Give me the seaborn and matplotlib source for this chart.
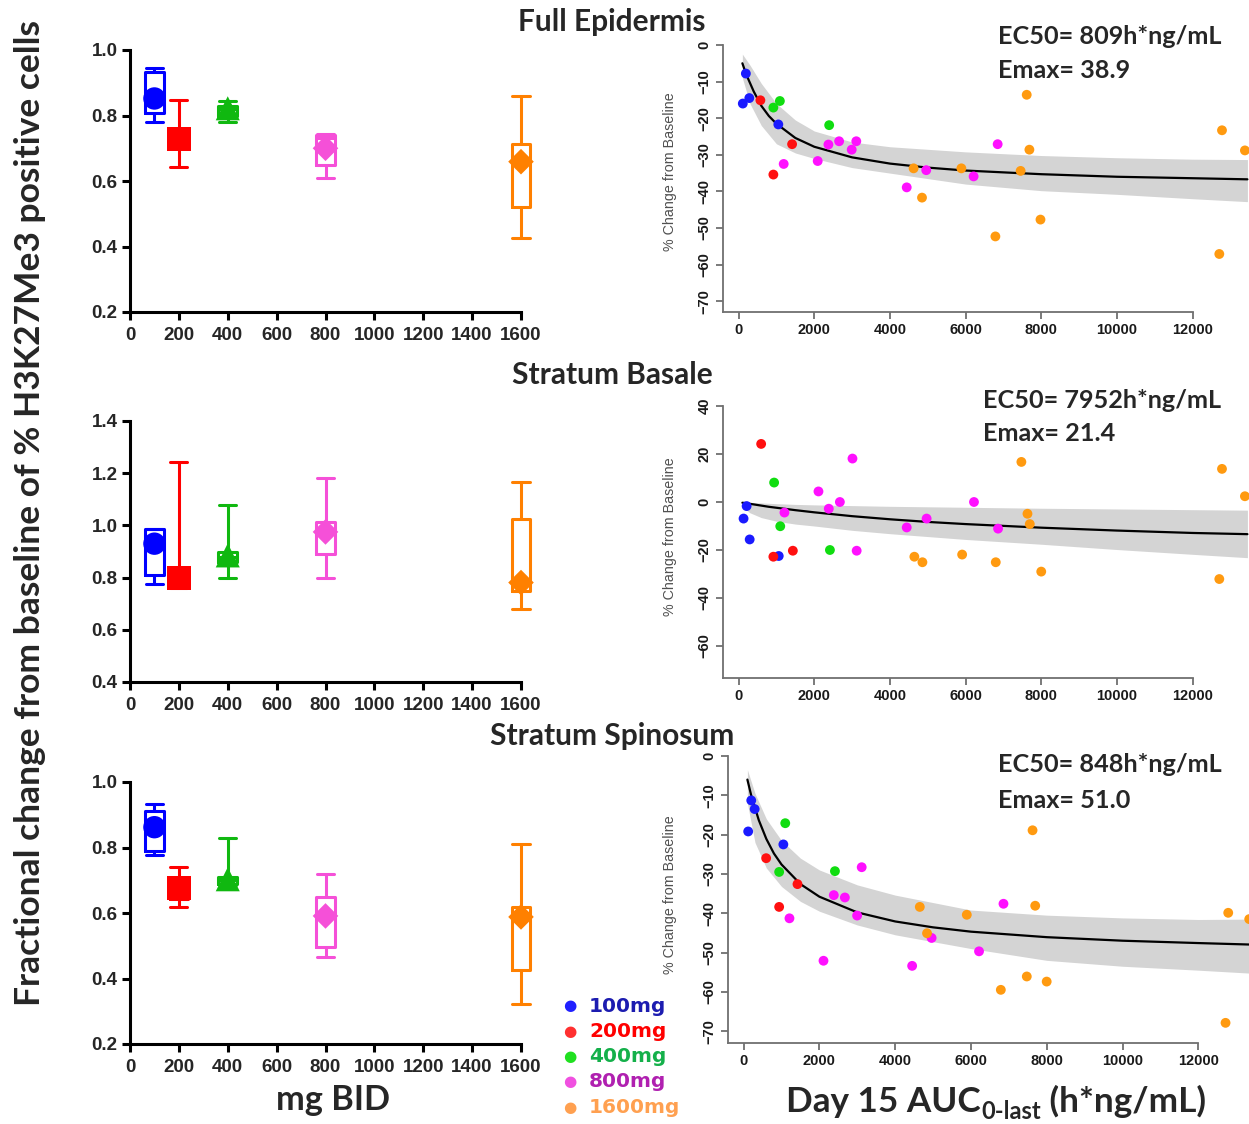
import numpy as np
import pandas as pd
import matplotlib
matplotlib.use("Agg")
import matplotlib.pyplot as plt
from matplotlib import font_manager
import seaborn as sns

# ------------------------------------------------------------------ data
groups = ["100mg", "200mg", "400mg", "800mg", "1600mg"]
doses = [100, 200, 400, 800, 1600]
panel_titles = ["Full Epidermis", "Stratum Basale", "Stratum Spinosum"]
ec50_text = ["EC50= 809h*ng/mL", "EC50= 7952h*ng/mL", "EC50= 848h*ng/mL"]
emax_text = ["Emax= 38.9", "Emax= 21.4", "Emax= 51.0"]

# box-whisker summaries (fraction of baseline), per dose group
fe_lo = [0.781, 0.644, 0.779, 0.610, 0.427]
fe_q1 = [0.808, 0.700, 0.800, 0.650, 0.522]
fe_med = [0.845, 0.730, 0.820, 0.730, 0.660]
fe_q3 = [0.934, 0.758, 0.830, 0.740, 0.712]
fe_hi = [0.946, 0.846, 0.845, 0.745, 0.860]
fe_mean = [0.852, 0.728, 0.822, 0.700, 0.659]

sb_lo = [0.774, 0.760, 0.800, 0.797, 0.681]
sb_q1 = [0.811, 0.770, 0.860, 0.892, 0.747]
sb_med = [0.930, 0.800, 0.880, 0.975, 0.781]
sb_q3 = [0.987, 0.834, 0.900, 1.013, 1.026]
sb_hi = [0.987, 1.243, 1.079, 1.183, 1.168]
sb_mean = [0.930, 0.800, 0.885, 0.975, 0.781]

ss_lo = [0.776, 0.617, 0.685, 0.466, 0.323]
ss_q1 = [0.790, 0.644, 0.690, 0.497, 0.427]
ss_med = [0.862, 0.675, 0.700, 0.591, 0.588]
ss_q3 = [0.911, 0.706, 0.710, 0.648, 0.619]
ss_hi = [0.933, 0.739, 0.829, 0.718, 0.812]
ss_mean = [0.862, 0.675, 0.703, 0.591, 0.588]

# individual subjects: group, AUC, % change
pt_group = (["100mg"] * 4 + ["200mg"] * 3 + ["400mg"] * 3 +
            ["800mg"] * 10 + ["1600mg"] * 11)

fe_auc = [192, 111, 283, 1050, 576, 1414, 919, 919, 1091, 2394,
          1192, 2091, 2374, 2657, 2990, 3111, 4444, 4960, 6212, 6848,
          4626, 4848, 5889, 6788, 7455, 7616, 7687, 7980, 12707, 12778, 13384]
fe_pct = [-7.8, -16.0, -14.5, -21.7, -15.1, -27.1, -35.4, -17.1, -15.3, -21.9,
          -32.5, -31.7, -27.2, -26.3, -28.6, -26.3, -38.9, -34.2, -35.9, -27.1,
          -33.7, -41.7, -33.7, -52.3, -34.4, -13.6, -28.6, -47.7, -57.1, -23.3, -28.8]

sb_auc = [131, 212, 293, 1061, 596, 919, 1434, 939, 1101, 2414,
          1212, 2111, 2384, 2677, 3010, 3121, 4444, 4970, 6222, 6859,
          4646, 4859, 5909, 6798, 7475, 7636, 7697, 8000, 12707, 12778, 13384]
sb_pct = [-6.9, -1.7, -15.6, -22.5, 24.2, -22.8, -20.3, 8.1, -10.1, -20.0,
          -4.4, 4.4, -2.8, 0.0, 18.1, -20.3, -10.6, -6.9, 0.0, -11.1,
          -22.8, -25.1, -21.9, -25.1, 16.7, -4.9, -9.2, -29.0, -32.1, 13.8, 2.4]

ss_auc = [202, 292, 121, 1049, 595, 1422, 938, 1099, 938, 2410,
          1210, 2108, 2380, 2672, 2995, 3116, 4447, 4961, 6212, 6857,
          4649, 4840, 5889, 6787, 7472, 7624, 7694, 7997, 12716, 12787, 13341]
ss_pct = [-11.3, -13.5, -19.2, -22.5, -26.0, -32.6, -38.4, -17.1, -29.5, -29.3,
          -41.3, -52.1, -35.4, -36.0, -40.6, -28.3, -53.4, -46.3, -49.7, -37.6,
          -38.4, -45.1, -40.4, -59.5, -56.1, -18.9, -38.1, -57.4, -67.9, -39.9, -41.5]

# fitted Emax curve and its band
curve_x = [100, 200, 400, 600, 800, 1000, 1500, 2000, 3000, 4000, 5000,
           6000, 8000, 10000, 12000, 13450]
fe_curve = [-5.0, -8.0, -12.7, -16.6, -19.4, -21.5, -25.4, -27.8, -30.7, -32.4,
            -33.5, -34.3, -35.3, -36.0, -36.4, -36.7]
sb_curve = [-0.3, -0.5, -1.0, -1.5, -2.0, -2.4, -3.4, -4.3, -5.9, -7.2, -8.3,
            -9.2, -10.7, -11.9, -12.9, -13.4]
ss_curve = [-6.0, -10.0, -16.3, -21.1, -24.8, -27.6, -32.6, -35.8, -39.8, -42.1,
            -43.6, -44.7, -46.1, -47.0, -47.6, -48.0]

band_x = [100, 300, 600, 1000, 1500, 2000, 3000, 4000, 6000, 8000, 10000, 12000, 13450]
fe_band_hi = [-2.5, -5.5, -10.5, -16.0, -20.5, -23.5, -26.5, -27.8, -29.2, -30.2, -30.8, -31.2, -31.3]
fe_band_lo = [-9.0, -16.0, -22.0, -27.0, -29.5, -31.0, -33.5, -35.0, -38.0, -39.8, -40.8, -42.0, -42.8]
sb_band_hi = [0.0, -0.2, -0.4, -0.7, -1.0, -1.2, -1.5, -1.8, -2.2, -2.6, -2.9, -3.2, -3.4]
sb_band_lo = [-2.0, -4.5, -6.5, -8.0, -9.2, -10.0, -11.8, -13.2, -15.6, -17.6, -19.8, -21.8, -23.2]
ss_band_hi = [-3.5, -9.5, -16.0, -21.5, -26.0, -29.0, -32.8, -35.4, -39.2, -40.5, -41.2, -41.6, -41.5]
ss_band_lo = [-12.0, -22.0, -28.5, -33.2, -37.0, -39.5, -43.0, -45.5, -49.0, -52.0, -53.5, -54.5, -55.3]

# ------------------------------------------------------------------ style
sns.set_style("white")
W, H = 1249, 1124
fig = plt.figure(figsize=(W / 100, H / 100), dpi=100)
plt.rcParams["font.family"] = ["Liberation Sans", "DejaVu Sans"]

box_colors = ["#0000ff", "#ff0000", "#10b810", "#f550d8", "#ff8000"]
pt_colors = {"100mg": "#1a1aff", "200mg": "#ff1010", "400mg": "#10dd10",
             "800mg": "#ff10ff", "1600mg": "#ff9a10"}
mean_markers = {"100mg": "o", "200mg": "s", "400mg": "^", "800mg": "D", "1600mg": "D"}
mean_sizes = {"100mg": 260, "200mg": 300, "400mg": 300, "800mg": 170, "1600mg": 170}

# narrow font for the R axis titles if available
try:
    font_manager.findfont("Liberation Sans Narrow", fallback_to_default=False)
    ylab_family, ylab_size = "Liberation Sans Narrow", 12.0
except Exception:
    ylab_family, ylab_size = "Liberation Sans", 10.3


def fx(px):
    return px / W


def fy(py):
    return 1 - py / H


# ------------------------------------------------------------------ left panels
left_specs = [
    dict(top=50, bot=312, ylim=(0.2, 1.0), lo=fe_lo, q1=fe_q1, med=fe_med, q3=fe_q3, hi=fe_hi, mean=fe_mean),
    dict(top=421, bot=682, ylim=(0.4, 1.4), lo=sb_lo, q1=sb_q1, med=sb_med, q3=sb_q3, hi=sb_hi, mean=sb_mean),
    dict(top=782, bot=1044, ylim=(0.2, 1.0), lo=ss_lo, q1=ss_q1, med=ss_med, q3=ss_q3, hi=ss_hi, mean=ss_mean),
]
for sp in left_specs:
    ax = fig.add_axes([fx(130), fy(sp["bot"]), fx(521 - 130), (sp["bot"] - sp["top"]) / H])
    stats = []
    for i in range(5):
        stats.append(dict(whislo=sp["lo"][i], q1=sp["q1"][i], med=sp["med"][i],
                          q3=sp["q3"][i], whishi=sp["hi"][i], fliers=[]))
    art = ax.bxp(stats, positions=doses, widths=76, capwidths=70, showfliers=False,
                 manage_ticks=False)
    for i, c in enumerate(box_colors):
        art["boxes"][i].set(color=c, linewidth=2.2, clip_on=False)
        art["medians"][i].set(color=c, linewidth=2.2, clip_on=False)
        for k in (2 * i, 2 * i + 1):
            art["whiskers"][k].set(color=c, linewidth=2.2, clip_on=False)
            art["caps"][k].set(color=c, linewidth=2.2, clip_on=False)
    mdf = pd.DataFrame({"dose": doses, "mean": sp["mean"], "group": groups})
    for g, c in zip(groups, box_colors):
        sub = mdf[mdf.group == g]
        sns.scatterplot(data=sub, x="dose", y="mean", marker=mean_markers[g],
                        s=mean_sizes[g], color=c, edgecolor="none", ax=ax,
                        legend=False, clip_on=False, zorder=5)
    ax.set_xlim(0, 1600)
    ax.set_ylim(*sp["ylim"])
    ax.set_xticks(range(0, 1601, 200))
    yt = np.arange(sp["ylim"][0], sp["ylim"][1] + 0.001, 0.2)
    ax.set_yticks(yt)
    ax.set_yticklabels([f"{v:.1f}" for v in yt])
    ax.set_xlabel("")
    ax.set_ylabel("")
    for s in ("top", "right"):
        ax.spines[s].set_visible(False)
    for s in ("left", "bottom"):
        ax.spines[s].set_linewidth(2.2)
        ax.spines[s].set_color("black")
    ax.tick_params(axis="both", direction="out", length=6, width=2.2, color="black",
                   labelsize=13.5, pad=3, left=True, bottom=True)
    ax.tick_params(axis="x", pad=5)
    for lab in ax.get_xticklabels() + ax.get_yticklabels():
        lab.set_fontweight("bold")
    ax.patch.set_alpha(0)

# ------------------------------------------------------------------ right panels
right_specs = [
    dict(left=722.6, zero=738.6, k=37.83, bot=312, y0px=45, ypx=3.66, ytop=2.8,
         ticks=list(range(0, -71, -10)), auc=fe_auc, pct=fe_pct, curve=fe_curve,
         bhi=fe_band_hi, blo=fe_band_lo),
    dict(left=722.6, zero=738.6, k=37.83, bot=678, y0px=502, ypx=2.40, ytop=44.4,
         ticks=list(range(40, -61, -20)), auc=sb_auc, pct=sb_pct, curve=sb_curve,
         bhi=sb_band_hi, blo=sb_band_lo),
    dict(left=727.6, zero=743.6, k=37.9, bot=1043, y0px=756, ypx=3.93, ytop=2.8,
         ticks=list(range(0, -71, -10)), auc=ss_auc, pct=ss_pct, curve=ss_curve,
         bhi=ss_band_hi, blo=ss_band_lo),
]
ylabel_centers = [172, 537, 895]
for j, sp in enumerate(right_specs):
    xl = (sp["left"] - sp["zero"]) / sp["k"] * 1000
    xr = (W - sp["zero"]) / sp["k"] * 1000
    ybot = -(sp["bot"] - sp["y0px"]) / sp["ypx"]
    ytop_px = sp["y0px"] - sp["ytop"] * sp["ypx"]
    ax = fig.add_axes([fx(sp["left"]), fy(sp["bot"]), fx(W - sp["left"]),
                       (sp["bot"] - ytop_px) / H])
    ax.fill_between(band_x, sp["blo"], sp["bhi"], color="#d4d4d4", linewidth=0, zorder=1)
    sns.lineplot(x=curve_x, y=sp["curve"], color="black", linewidth=1.6, ax=ax, zorder=2)
    pdf = pd.DataFrame({"auc": sp["auc"], "pct": sp["pct"], "group": pt_group})
    sns.scatterplot(data=pdf, x="auc", y="pct", hue="group", palette=pt_colors,
                    s=50, edgecolor="none", legend=False, ax=ax, zorder=3)
    ax.set_xlim(xl, xr)
    ax.set_ylim(ybot, sp["ytop"])
    ax.set_xticks(range(0, 12001, 2000))
    ax.set_yticks(sp["ticks"])
    ax.set_xlabel("")
    ax.set_ylabel("")
    for s in ("top", "right"):
        ax.spines[s].set_visible(False)
    ax.spines["left"].set_bounds(ybot, max(sp["ticks"]))
    ax.spines["bottom"].set_bounds(xl, 12000)
    for s in ("left", "bottom"):
        ax.spines[s].set_linewidth(1.3)
        ax.spines[s].set_color("#707070")
    ax.tick_params(axis="both", direction="out", length=5, width=1.3, color="#707070",
                   labelsize=10.5, pad=3, left=True, bottom=True, labelcolor="#1a1a1a")
    ax.tick_params(axis="y", labelrotation=90)
    for lab in ax.get_yticklabels():
        lab.set_va("center")
    for lab in ax.get_xticklabels() + ax.get_yticklabels():
        lab.set_fontweight("bold")
    ax.patch.set_alpha(0)
    fig.text(fx(670), fy(ylabel_centers[j]), "% Change from Baseline", rotation=90,
             ha="center", va="center", fontsize=ylab_size, color="#505050",
             family=ylab_family)

# ------------------------------------------------------------------ texts
title_y = [22, 375, 736]
for t, y in zip(panel_titles, title_y):
    fig.text(fx(612), fy(y), t, ha="center", va="center", fontsize=21.5,
             fontweight="bold", family="Lato")
ec_pos = [(998, 37, 71), (983, 400, 434), (998, 765, 800)]
for (x, y1, y2), a, b in zip(ec_pos, ec50_text, emax_text):
    fig.text(fx(x), fy(y1), a, ha="left", va="center", fontsize=18.2,
             fontweight="bold", family="Lato")
    fig.text(fx(x), fy(y2), b, ha="left", va="center", fontsize=18.2,
             fontweight="bold", family="Lato")

fig.text(fx(30), fy(513), "Fractional change from baseline of % H3K27Me3 positive cells",
         rotation=90, ha="center", va="center", fontsize=25.5, fontweight="bold",
         family="Lato")
fig.text(fx(333), fy(1100), "mg BID", ha="center", va="center", fontsize=24.7,
         fontweight="bold", family="Lato")

# legend
leg_text_colors = ["#1c1cb0", "#ff0000", "#14b04a", "#b020b0", "#ffa050"]
leg_dot_colors = ["#2020ff", "#ff3030", "#20e020", "#f050e0", "#ffa050"]
for i, g in enumerate(groups):
    y = 1006 + i * 25.3
    fig.text(fx(570), fy(y), "\u25cf", ha="center", va="center", fontsize=11,
             color=leg_dot_colors[i], family="DejaVu Sans")
    fig.text(fx(589), fy(y), g, ha="left", va="center", fontsize=14.5,
             fontweight="bold", color=leg_text_colors[i], family="DejaVu Sans")

# AUC x-label with subscript
fig.canvas.draw()
rend = fig.canvas.get_renderer()
base_y = fy(1112)
t1 = fig.text(fx(786), base_y, "Day 15 AUC", ha="left", va="baseline", fontsize=25.3,
              fontweight="bold", family="Lato")
bb1 = t1.get_window_extent(rend)
t2 = fig.text(bb1.x1 / W + 0.001, base_y - 7 / H, "0-last", ha="left", va="baseline",
              fontsize=17, fontweight="bold", family="Lato")
bb2 = t2.get_window_extent(rend)
fig.text(bb2.x1 / W, base_y, " (h*ng/mL)", ha="left", va="baseline", fontsize=25.3,
         fontweight="bold", family="Lato")

fig.savefig("out.png", dpi=100)
